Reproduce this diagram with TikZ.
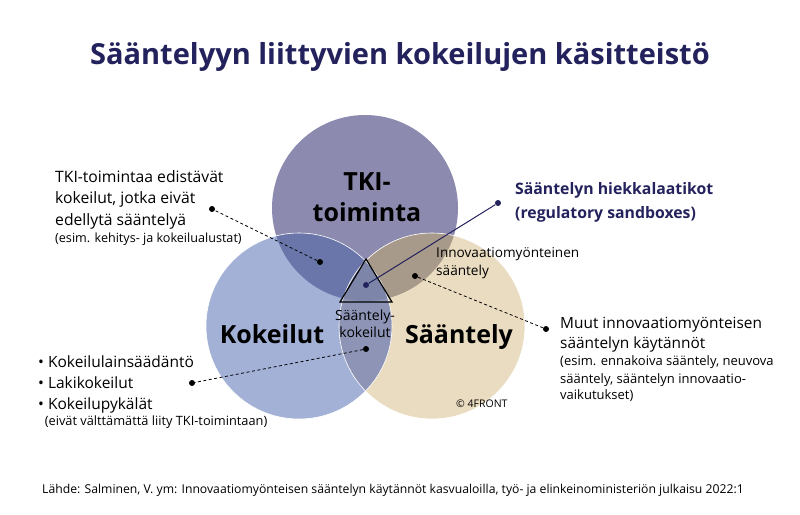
\documentclass[tikz,border=0pt]{standalone}
\usepackage{fontspec}
\setmainfont{Open Sans}
\definecolor{navy}{HTML}{23225C}
\definecolor{tkicol}{HTML}{8C8AAE}
\definecolor{kokcol}{HTML}{A3B1D7}
\definecolor{saacol}{HTML}{EADCC0}
\definecolor{tkikok}{HTML}{6A76AA}
\definecolor{tkisaa}{HTML}{A89A8A}
\definecolor{koksaa}{HTML}{8D94B6}
\definecolor{kaikki}{HTML}{7D85A8}
\tikzset{
  dot/.style={circle,fill,inner sep=0pt,minimum size=6pt},
  teksti/.style={anchor=base west,align=left,inner sep=0pt},
  iso/.style={font=\fontsize{25}{31}\selectfont\bfseries}
}
\begin{document}
\begin{tikzpicture}[x=1pt,y=-1pt]
  \useasboundingbox (0,0) rectangle (800,514);

  \coordinate (tki) at (365,208);
  \coordinate (kok) at (299,326);
  \coordinate (saa) at (432,326);

  % ympyrat
  \fill[tkicol] (tki) circle[radius=93];
  \fill[kokcol] (kok) circle[radius=93];
  \fill[saacol] (saa) circle[radius=93];
  \begin{scope}
    \clip (tki) circle[radius=93];
    \fill[tkikok] (kok) circle[radius=93];
    \fill[tkisaa] (saa) circle[radius=93];
  \end{scope}
  \begin{scope}
    \clip (kok) circle[radius=93];
    \fill[koksaa] (saa) circle[radius=93];
  \end{scope}
  \begin{scope}
    \clip (tki) circle[radius=93];
    \clip (kok) circle[radius=93];
    \fill[kaikki] (saa) circle[radius=93];
  \end{scope}
  \draw[white,line width=0.6pt] (kok) circle[radius=93] (saa) circle[radius=93];

  % kolmio
  \draw[line width=1.2pt,line join=miter] (366,259) -- (392,302) -- (340,302) -- cycle;

  \node[anchor=base] (otsikko) at (400,64)
    {\fontsize{29}{36}\selectfont\bfseries\color{navy}Sääntelyyn liittyvien kokeilujen käsitteistö};

  % viimeisen rivin perusviiva
  \begin{scope}[every node/.style={iso,align=center,anchor=base}]
    \node (tkiteksti) at (367,221) {TKI-\\toiminta};
    \node (kokteksti) at (272,343) {Kokeilut};
    \node (saateksti) at (459,343) {Sääntely};
  \end{scope}

  \begin{scope}[every node/.style={teksti}]
    \node[font=\fontsize{15.7}{21.5}\selectfont] (tkikokeilut) at (55,242)
      {TKI-toimintaa edistävät\\kokeilut, jotka eivät\\edellytä sääntelyä\\[-4.5pt]
       \fontsize{12.6}{17}\selectfont(esim. kehitys- ja kokeilualustat)};
    \node[text=navy,font=\fontsize{15.8}{24}\selectfont\bfseries] (hiekka) at (515,218)
      {Sääntelyn hiekkalaatikot\\(regulatory sandboxes)};
    \node[font=\fontsize{13.6}{18}\selectfont] (innosaa) at (436,275)
      {Innovaatiomyönteinen\\sääntely};
    \node[align=center,anchor=base,font=\fontsize{14}{17}\selectfont] (saakok) at (365,337)
      {Sääntely-\\kokeilut};
    \node[font=\fontsize{15.4}{17.5}\selectfont] (muut) at (560,399)
      {Muut innovaatiomyönteisen\\[2.5pt]sääntelyn käytännöt\\[-0.5pt]
       \fontsize{13}{17.5}\selectfont(esim. ennakoiva sääntely, neuvova\\
       \fontsize{13}{17.5}\selectfont sääntely, sääntelyn innovaatio-\\[-1.5pt]
       \fontsize{13}{17.5}\selectfont vaikutukset)};
    \node[font=\fontsize{15.5}{21}\selectfont] (lista) at (38,425)
      {\textbullet\ Kokeilulainsäädäntö\\\textbullet\ Lakikokeilut\\\textbullet\ Kokeilupykälät\\[-5pt]
       \fontsize{12.8}{16}\selectfont\ \ (eivät välttämättä liity TKI-toimintaan)};
    \node[font=\fontsize{10.5}{12}\selectfont] (copy) at (456,407) {© 4FRONT};
    \node[font=\fontsize{12.2}{14}\selectfont] (lahde) at (42,493)
      {Lähde: Salminen, V. ym: Innovaatiomyönteisen sääntelyn käytännöt kasvualoilla, työ- ja elinkeinoministeriön julkaisu 2022:1};
  \end{scope}

  % pisteet
  \begin{scope}[every node/.style={dot}]
    \node (p1) at (320,262) {};
    \node (p2) at (212,209) {};
    \node[navy] (p3) at (366,285) {};
    \node[navy] (p4) at (498,203) {};
    \node (p5) at (415,276) {};
    \node (p6) at (546,329) {};
    \node (p7) at (366,349) {};
    \node (p8) at (192,383) {};
  \end{scope}

  \begin{scope}[every edge/.style={draw,dashed,line width=0.8pt,dash pattern=on 3pt off 2.5pt}]
    \path (p1) edge (p2);
    \path (p5) edge (p6);
    \path (p7) edge (p8);
  \end{scope}
  \path (p3) edge[draw=navy,line width=1pt] (p4);

\end{tikzpicture}
\end{document}
